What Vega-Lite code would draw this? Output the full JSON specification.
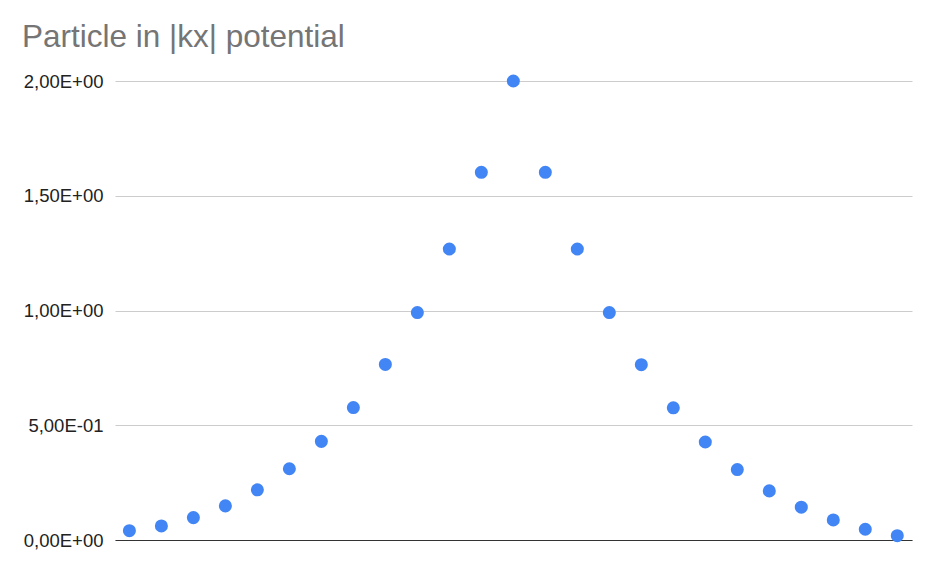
{
  "$schema": "https://vega.github.io/schema/vega-lite/v6.json",
  "width": 797,
  "height": 459,
  "autosize": {"type": "none"},
  "padding": {"left": 115, "top": 81, "right": 23, "bottom": 29},
  "background": "white",
  "title": {
    "text": "Particle in |kx| potential",
    "anchor": "start",
    "frame": "group",
    "font": "Liberation Sans",
    "fontSize": 31.5,
    "fontWeight": "normal",
    "color": "#757575",
    "dx": -93,
    "offset": 19
  },
  "data": {
    "values": [
      {"i": 0, "v": 0.0407},
      {"i": 1, "v": 0.0612},
      {"i": 2, "v": 0.0975},
      {"i": 3, "v": 0.1487},
      {"i": 4, "v": 0.2186},
      {"i": 5, "v": 0.3105},
      {"i": 6, "v": 0.4298},
      {"i": 7, "v": 0.577},
      {"i": 8, "v": 0.765},
      {"i": 9, "v": 0.991},
      {"i": 10, "v": 1.268},
      {"i": 11, "v": 1.602},
      {"i": 12, "v": 2.0},
      {"i": 13, "v": 1.602},
      {"i": 14, "v": 1.268},
      {"i": 15, "v": 0.991},
      {"i": 16, "v": 0.764},
      {"i": 17, "v": 0.576},
      {"i": 18, "v": 0.427},
      {"i": 19, "v": 0.307},
      {"i": 20, "v": 0.214},
      {"i": 21, "v": 0.143},
      {"i": 22, "v": 0.0875},
      {"i": 23, "v": 0.0468},
      {"i": 24, "v": 0.0188}
    ]
  },
  "mark": {"type": "point", "filled": true, "size": 170, "color": "#4285F4", "opacity": 1, "clip": false},
  "encoding": {
    "x": {
      "field": "i",
      "type": "quantitative",
      "scale": {"domain": [-0.45, 24.46], "nice": false, "zero": false},
      "axis": {
        "title": null,
        "labels": false,
        "ticks": false,
        "grid": false,
        "domain": true,
        "domainColor": "#333333",
        "domainWidth": 1.2
      }
    },
    "y": {
      "field": "v",
      "type": "quantitative",
      "scale": {"domain": [0, 2], "nice": false},
      "axis": {
        "title": null,
        "values": [0, 0.5, 1, 1.5, 2],
        "labelExpr": "datum.value == 0 ? '0,00E+00' : datum.value == 0.5 ? '5,00E-01' : datum.value == 1 ? '1,00E+00' : datum.value == 1.5 ? '1,50E+00' : '2,00E+00'",
        "labelFont": "Liberation Sans",
        "labelFontSize": 18.5,
        "labelColor": "#222222",
        "labelPadding": 12,
        "ticks": false,
        "domain": false,
        "grid": true,
        "gridColor": "#cccccc",
        "gridWidth": 1
      }
    }
  },
  "config": {"view": {"stroke": null}}
}
